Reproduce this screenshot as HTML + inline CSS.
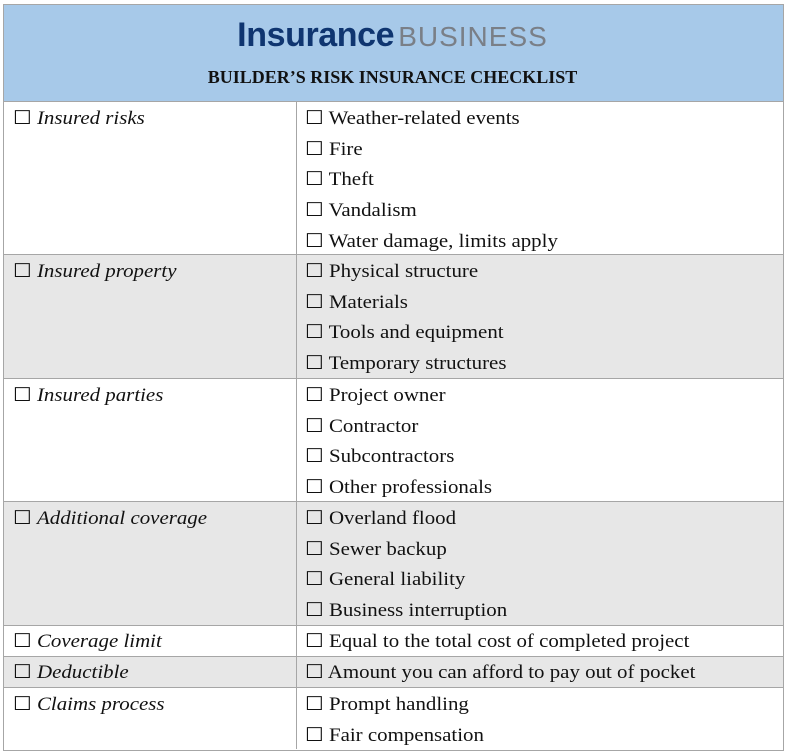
<!DOCTYPE html>
<html><head><meta charset="utf-8"><style>
body{margin:0;background:#fff;width:785px;height:753px;position:relative;overflow:hidden;font-family:"Liberation Serif",serif;}
.box{position:absolute;left:3px;top:4px;width:779px;height:745px;border:1px solid #a6a6a6;}
.hdr{position:absolute;left:4px;top:5px;width:779px;height:96px;background:#a7c9e9;}
.logo{position:absolute;left:0;width:785px;top:15px;text-align:center;font-size:34px;line-height:40px;white-space:nowrap;}
.logo b{font-family:"Liberation Sans Narrow","Liberation Sans",sans-serif;color:#0f3570;font-weight:bold;letter-spacing:-0.4px;}
.logo span{font-family:"Liberation Sans",sans-serif;color:#7a7f87;font-size:28px;letter-spacing:1px;margin-left:4px;}
.title{position:absolute;left:0;width:785px;top:67px;text-align:center;font-weight:bold;font-size:18px;color:#111;}
.row{position:absolute;left:4px;width:779px;border-top:1px solid #a6a6a6;}
.g{background:#e7e7e7;}
.vl{position:absolute;left:296px;top:101px;width:1px;height:648px;background:#a6a6a6;}
.t{position:absolute;font-size:19px;line-height:30.7px;color:#111;white-space:nowrap;transform:scaleX(1.1);transform-origin:0 0;}
.t i{font-style:italic;}
</style></head><body>
<div class="hdr"></div>
<div class="row" style="top:101px;height:153px"></div>
<div class="row g" style="top:254px;height:124px"></div>
<div class="row" style="top:378px;height:123px"></div>
<div class="row g" style="top:501px;height:124px"></div>
<div class="row" style="top:625px;height:31px"></div>
<div class="row g" style="top:656px;height:31px"></div>
<div class="row" style="top:687px;height:62px"></div>
<div class="vl"></div>
<div class="box"></div>
<div class="logo"><b>Insurance</b><span>BUSINESS</span></div>
<div class="title">BUILDER’S RISK INSURANCE CHECKLIST</div>

<div class="t" style="left:13px;top:104px">☐ <i>Insured risks</i></div>
<div class="t" style="left:305px;top:104px">☐ Weather-related events<br>☐ Fire<br>☐ Theft<br>☐ Vandalism<br>☐ Water damage, limits apply</div>
<div class="t" style="left:13px;top:257px">☐ <i>Insured property</i></div>
<div class="t" style="left:305px;top:257px">☐ Physical structure<br>☐ Materials<br>☐ Tools and equipment<br>☐ Temporary structures</div>
<div class="t" style="left:13px;top:381px">☐ <i>Insured parties</i></div>
<div class="t" style="left:305px;top:381px">☐ Project owner<br>☐ Contractor<br>☐ Subcontractors<br>☐ Other professionals</div>
<div class="t" style="left:13px;top:504px">☐ <i>Additional coverage</i></div>
<div class="t" style="left:305px;top:504px">☐ Overland flood<br>☐ Sewer backup<br>☐ General liability<br>☐ Business interruption</div>
<div class="t" style="left:13px;top:627px">☐ <i>Coverage limit</i></div>
<div class="t" style="left:305px;top:627px">☐ Equal to the total cost of completed project</div>
<div class="t" style="left:13px;top:658px">☐ <i>Deductible</i></div>
<div class="t" style="left:305px;top:658px">☐ Amount you can afford to pay out of pocket</div>
<div class="t" style="left:13px;top:690px">☐ <i>Claims process</i></div>
<div class="t" style="left:305px;top:690px">☐ Prompt handling<br>☐ Fair compensation</div>
</body></html>
